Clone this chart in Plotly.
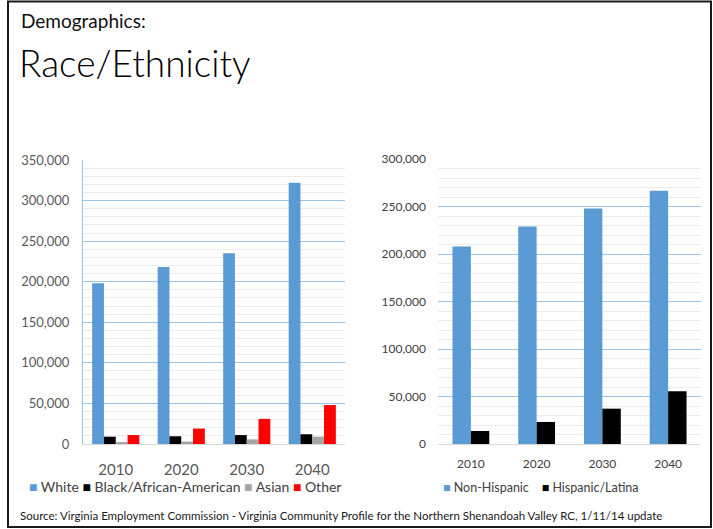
import plotly.graph_objects as go

years = ["2010", "2020", "2030", "2040"]

# Left chart: race
race_names = ["White", "Black/African-American", "Asian", "Other"]
race_colors = ["#5b9bd5", "#000000", "#a5a5a5", "#ff0000"]
white = [198000, 218000, 235000, 322000]
black = [9000, 9500, 11000, 12000]
asian = [1800, 3000, 5700, 9000]
other = [11000, 19000, 31000, 48000]
race_values = [white, black, asian, other]

# Right chart: ethnicity
eth_names = ["Non-Hispanic", "Hispanic/Latina"]
eth_colors = ["#5b9bd5", "#000000"]
non_hispanic = [208000, 229000, 248000, 266500]
hispanic = [13700, 23200, 37200, 55400]
eth_values = [non_hispanic, hispanic]

W, H = 713, 529
FONT = "Lato, 'Open Sans', sans-serif"

fig = go.Figure()

# left: 4 bars per category, each 0.18 of category width
lw = 0.18
for i, (name, color, vals) in enumerate(zip(race_names, race_colors, race_values)):
    fig.add_trace(go.Bar(x=years, y=vals, name=name, marker_color=color,
                         marker_line_width=0, xaxis="x", yaxis="y",
                         width=lw, offset=-2 * lw + i * lw,
                         showlegend=False))

# right: 2 bars per category, each 0.28 of category width
rw = 0.28
for i, (name, color, vals) in enumerate(zip(eth_names, eth_colors, eth_values)):
    fig.add_trace(go.Bar(x=years, y=vals, name=name, marker_color=color,
                         marker_line_width=0, xaxis="x2", yaxis="y2",
                         width=rw, offset=-rw + i * rw,
                         showlegend=False))

def px_x(p):
    return p / W

def px_y(p):
    return (H - p) / H

major = "#9dc3e6"
minor = "#ececec"

fig.update_layout(
    width=W, height=H, autosize=False,
    margin=dict(l=0, r=0, t=0, b=0, autoexpand=False),
    paper_bgcolor="white", plot_bgcolor="white",
    barmode="overlay",
    font=dict(family=FONT, color="#595959"),
    xaxis=dict(domain=[px_x(83), px_x(345)], type="category",
               categoryorder="array", categoryarray=years,
               showgrid=False, showline=True, linecolor="#d9d9d9", linewidth=1,
               ticks="", tickfont=dict(size=15, color="#595959"),
               ticklabelstandoff=12, anchor="y", automargin=False),
    yaxis=dict(domain=[px_y(444), px_y(160)], range=[0, 350000],
               dtick=50000, tickformat=",d", showgrid=True, gridcolor=major,
               gridwidth=1, showline=True, linecolor=major, linewidth=1,
               zeroline=False, ticks="",
               tickfont=dict(size=13, color="#595959"), ticklabelstandoff=10,
               minor=dict(dtick=10000, showgrid=True, gridcolor=minor,
                          gridwidth=1),
               anchor="x", automargin=False),
    xaxis2=dict(domain=[px_x(438), px_x(701)], type="category",
                categoryorder="array", categoryarray=years,
                showgrid=False, showline=True, linecolor="#d9d9d9",
                linewidth=1, ticks="",
                tickfont=dict(size=12, color="#404040"),
                ticklabelstandoff=9, anchor="y2", automargin=False),
    yaxis2=dict(domain=[px_y(444), px_y(159)], range=[0, 300000],
                dtick=50000, tickformat=",d", showgrid=True, gridcolor=major,
                gridwidth=1, showline=False, zeroline=False, ticks="",
                tickfont=dict(size=12, color="#404040"), ticklabelstandoff=11,
                minor=dict(dtick=10000, showgrid=True, gridcolor=minor,
                           gridwidth=1),
                anchor="x2", automargin=False),
)

# Titles
fig.add_annotation(text="Demographics:", x=px_x(19), y=px_y(20),
                   xref="paper", yref="paper", xanchor="left", yanchor="middle",
                   showarrow=False,
                   font=dict(family=FONT, size=19, color="#111111", weight=400))
fig.add_annotation(text="Race/Ethnicity", x=px_x(17), y=px_y(62),
                   xref="paper", yref="paper", xanchor="left", yanchor="middle",
                   showarrow=False,
                   font=dict(family=FONT, size=37, color="#000000", weight=300))

# Legends
def legend_text(names, colors, sep):
    parts = []
    for n, c in zip(names, colors):
        parts.append(f"<span style='color:{c}'>■</span> {n}")
    return sep.join(parts)

fig.add_annotation(text=legend_text(race_names, race_colors, " "),
                   x=px_x(27), y=px_y(486), xref="paper", yref="paper",
                   xanchor="left", yanchor="middle", showarrow=False,
                   font=dict(family=FONT, size=14, color="#404040"))
fig.add_annotation(text=legend_text(eth_names, eth_colors, "&nbsp;&nbsp;&nbsp;&nbsp;"),
                   x=px_x(441), y=px_y(487), xref="paper", yref="paper",
                   xanchor="left", yanchor="middle", showarrow=False,
                   font=dict(family=FONT, size=12.5, color="#404040"))

fig.add_annotation(text="Source: Virginia Employment Commission - Virginia Community Profile for the Northern Shenandoah Valley RC, 1/11/14 update",
                   x=px_x(18), y=px_y(515), xref="paper", yref="paper",
                   xanchor="left", yanchor="middle", showarrow=False,
                   font=dict(family=FONT, size=11.5, color="#1a1a1a", weight=400))

# Frame
fig.add_shape(type="rect", xref="paper", yref="paper",
              x0=px_x(8), x1=px_x(711), y0=px_y(527), y1=px_y(1.5),
              line=dict(color="#1a1a1a", width=2))

fig.write_html("out.html",
               config={"responsive": False, "displayModeBar": False},
               post_script="document.body.style.margin='0';document.body.style.overflow='hidden';")
